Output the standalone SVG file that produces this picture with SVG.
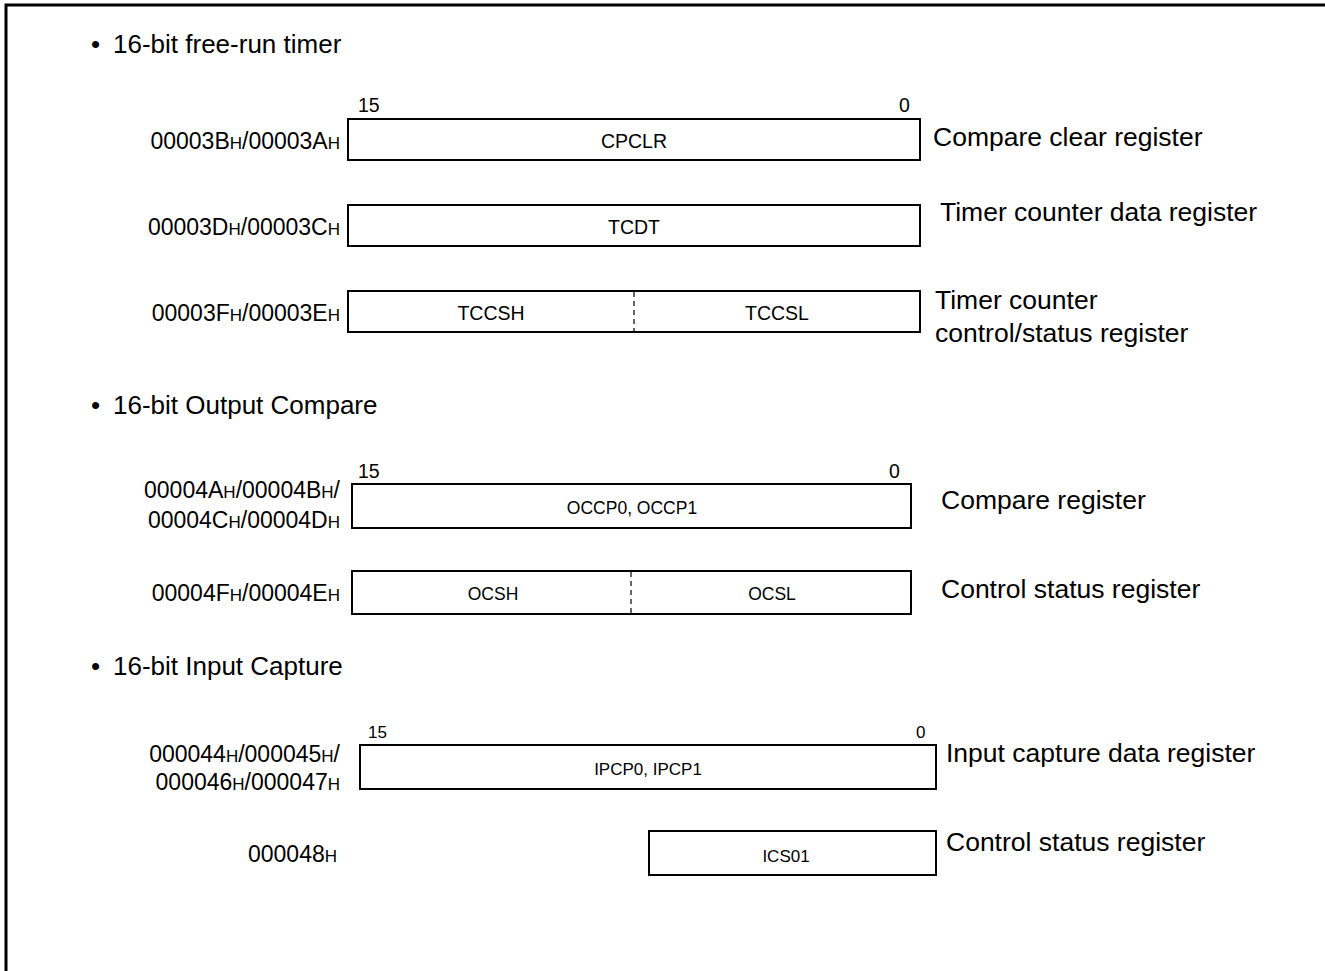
<svg xmlns="http://www.w3.org/2000/svg" width="1325" height="971" viewBox="0 0 1325 971">
  <style>
    text { font-family: "Liberation Sans", Arial, sans-serif; fill: #000; }
    .head { font-size: 26px; }
    .desc { font-size: 26.5px; }
    .addr { font-size: 23px; text-anchor: end; }
    .addr tspan.h { font-size: 17px; }
    .bit { font-size: 19.5px; }
    .name { font-size: 19.5px; text-anchor: middle; }
    .sm { font-size: 17.5px; }
    .xs { font-size: 17px; }
    .box { fill: #fff; stroke: #000; stroke-width: 2; }
    .split { stroke: #000; stroke-width: 1.2; stroke-dasharray: 5 4; }
    .frame { fill: none; stroke: #000; stroke-width: 3; }
  </style>

  <rect width="1325" height="971" fill="#fff"/>
  <path class="frame" d="M6,975 V5 H1330"/>

  <!-- 16-bit free-run timer -->
  <g id="sec-frt">
    <text class="head" x="91" y="53">•</text>
    <text class="head" x="113" y="53">16-bit free-run timer</text>
  </g>
  <g id="reg-cpclr">
    <text class="bit" x="358" y="112">15</text>
    <text class="bit" x="899" y="112">0</text>
    <rect class="box" x="348" y="119" width="572" height="41"/>
    <text class="name" x="634" y="148">CPCLR</text>
    <text class="addr" x="340" y="149">00003B<tspan class="h">H</tspan>/00003A<tspan class="h">H</tspan></text>
    <text class="desc" x="933" y="146">Compare clear register</text>
  </g>
  <g id="reg-tcdt">
    <rect class="box" x="348" y="205" width="572" height="41"/>
    <text class="name" x="634" y="234">TCDT</text>
    <text class="addr" x="340" y="235">00003D<tspan class="h">H</tspan>/00003C<tspan class="h">H</tspan></text>
    <text class="desc" x="940" y="221">Timer counter data register</text>
  </g>
  <g id="reg-tccs">
    <rect class="box" x="348" y="291" width="572" height="41"/>
    <line class="split" x1="634" y1="292" x2="634" y2="331"/>
    <text class="name" x="491" y="320">TCCSH</text>
    <text class="name" x="777" y="320">TCCSL</text>
    <text class="addr" x="340" y="321">00003F<tspan class="h">H</tspan>/00003E<tspan class="h">H</tspan></text>
    <text class="desc" x="935" y="309">Timer counter</text>
    <text class="desc" x="935" y="342">control/status register</text>
  </g>

  <!-- 16-bit Output Compare -->
  <g id="sec-oc">
    <text class="head" x="91" y="414">•</text>
    <text class="head" x="113" y="414">16-bit Output Compare</text>
  </g>
  <g id="reg-occp">
    <text class="bit" x="358" y="478">15</text>
    <text class="bit" x="889" y="478">0</text>
    <rect class="box" x="352" y="484" width="559" height="44"/>
    <text class="name sm" x="632" y="514">OCCP0, OCCP1</text>
    <text class="addr" x="340" y="498">00004A<tspan class="h">H</tspan>/00004B<tspan class="h">H</tspan>/</text>
    <text class="addr" x="340" y="528">00004C<tspan class="h">H</tspan>/00004D<tspan class="h">H</tspan></text>
    <text class="desc" x="941" y="509">Compare register</text>
  </g>
  <g id="reg-ocs">
    <rect class="box" x="352" y="571" width="559" height="43"/>
    <line class="split" x1="631" y1="572" x2="631" y2="613"/>
    <text class="name sm" x="493" y="600">OCSH</text>
    <text class="name sm" x="772" y="600">OCSL</text>
    <text class="addr" x="340" y="601">00004F<tspan class="h">H</tspan>/00004E<tspan class="h">H</tspan></text>
    <text class="desc" x="941" y="598">Control status register</text>
  </g>

  <!-- 16-bit Input Capture -->
  <g id="sec-ic">
    <text class="head" x="91" y="675">•</text>
    <text class="head" x="113" y="675">16-bit Input Capture</text>
  </g>
  <g id="reg-ipcp">
    <text class="bit xs" x="368" y="738">15</text>
    <text class="bit xs" x="916" y="738">0</text>
    <rect class="box" x="360" y="745" width="576" height="44"/>
    <text class="name xs" x="648" y="775">IPCP0, IPCP1</text>
    <text class="addr" x="340" y="762">000044<tspan class="h">H</tspan>/000045<tspan class="h">H</tspan>/</text>
    <text class="addr" x="340" y="790">000046<tspan class="h">H</tspan>/000047<tspan class="h">H</tspan></text>
    <text class="desc" x="946" y="762">Input capture data register</text>
  </g>
  <g id="reg-ics">
    <rect class="box" x="649" y="831" width="287" height="44"/>
    <text class="name xs" x="786" y="862">ICS01</text>
    <text class="addr" x="337" y="862">000048<tspan class="h">H</tspan></text>
    <text class="desc" x="946" y="851">Control status register</text>
  </g>

  <g id="connectors"/>
</svg>
